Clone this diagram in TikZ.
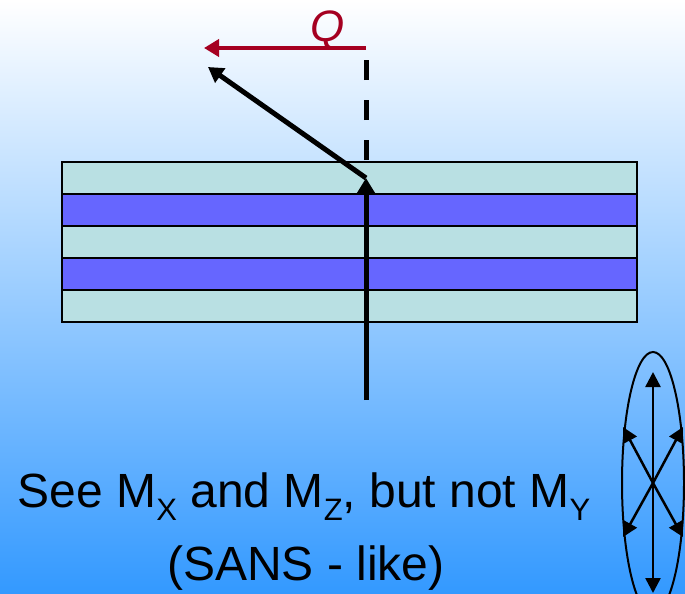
\documentclass[tikz,border=0pt]{standalone}
\usepackage{fontspec}
\setmainfont{Liberation Sans}
\usetikzlibrary{arrows.meta, shapes.geometric}
\definecolor{skytop}{RGB}{255,255,255}
\definecolor{skymid}{RGB}{190,212,255}
\definecolor{skybottom}{RGB}{51,153,255}
\definecolor{layerlight}{RGB}{185,224,227}
\definecolor{layerdark}{RGB}{102,102,255}
\definecolor{qred}{RGB}{165,0,33}
\newcommand{\msub}[1]{\raisebox{-0.28em}{\fontsize{31}{31}\selectfont #1}}

\begin{document}
\begin{tikzpicture}[x=1pt, y=-1pt]
    \tikzset{
        layer/.style={draw=black, line width=2pt},
        beam/.style={line width=5pt, -{Triangle[length=15pt, width=17pt]}},
        spin/.style={line width=2.5pt, -{Triangle[length=15pt, width=15pt]}},
        caption/.style={font=\fontsize{48}{52}\selectfont, text=black}
    }
    % background
    \useasboundingbox (0,0) rectangle (685,594);
    \shade[top color=skytop, middle color=skymid, bottom color=skybottom] (0,0) rectangle (685,594);

    % multilayer
    \foreach \i/\c in {0/layerlight, 1/layerdark, 2/layerlight, 3/layerdark, 4/layerlight} {
        \filldraw[layer, fill=\c] (62,162+32*\i) rectangle (637,194+32*\i);
    }

    % beam path
    \coordinate (src) at (366,400);
    \coordinate (refl) at (366,178);
    \coordinate (out) at (208,67);
    \coordinate (qtop) at (366,48);
    \coordinate (qend) at (204,48);
    \coordinate (dashend) at (366,160);
    \draw[line width=5pt, dash pattern=on 20pt off 20pt] (dashend) -- (qtop);
    \draw[beam] (src) -- (refl);
    \draw[beam] (refl) -- (out);
    \draw[beam, draw=qred, fill=qred, line width=4.5pt] (qtop) -- (qend);
    \node[font=\fontsize{44}{44}\selectfont\itshape, text=qred] (qlabel) at (328,30) {Q};

    % spin ellipse
    \node[ellipse, draw=black, line width=2pt, minimum width=62pt, minimum height=262pt, inner sep=0pt] (ell) at (653,483) {};
    \coordinate (sup) at (653,372);
    \coordinate (sdown) at (653,593);
    \coordinate (sul) at (623,427);
    \coordinate (sur) at (683,427);
    \coordinate (sdl) at (623,537);
    \coordinate (sdr) at (683,537);
    \foreach \t in {sup, sdown, sul, sur, sdl, sdr} {
        \draw[spin] (ell.center) -- (\t);
    }

    % text
    \node[caption, anchor=base] (line1) at (304,507) {See M\msub{X} and M\msub{Z}, but not M\msub{Y}};
    \node[caption, anchor=base] (line2) at (306,580) {(SANS - like)};
\end{tikzpicture}
\end{document}
